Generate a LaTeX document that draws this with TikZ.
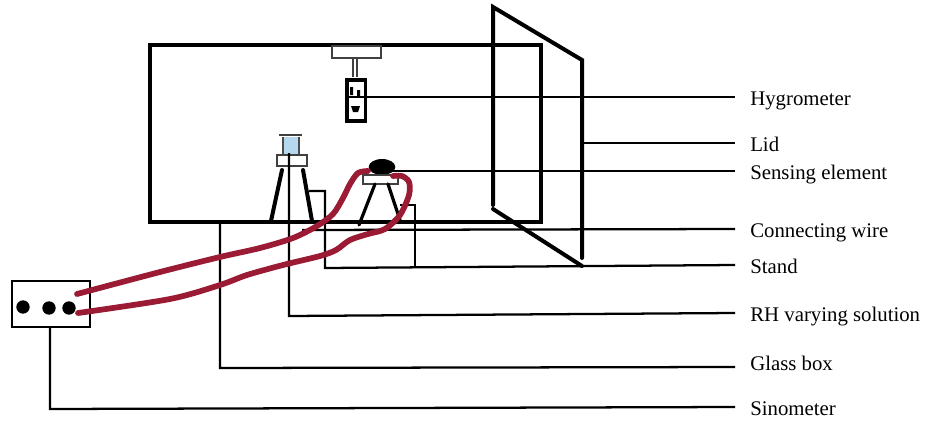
\documentclass[tikz,border=0pt]{standalone}
\usepackage{fontspec}
\usetikzlibrary{shapes.geometric}
\setmainfont{Liberation Serif}
\definecolor{wirecol}{HTML}{9B1B35}
\definecolor{solcol}{HTML}{B5D8EE}
\tikzset{
  x=0.75pt,y=-0.75pt,
  heavy/.style={draw=black,line width=3pt,line cap=round},
  medium/.style={draw=black,line width=1.9pt},
  leader/.style={draw=black,line width=1.7pt},
  thin part/.style={draw=black!75,line width=1pt},
  wire/.style={draw=wirecol,line width=4.3pt,line cap=round,line join=round},
  lab/.style={anchor=west,inner ysep=0pt,inner xsep=11.25pt,font=\fontsize{15.6}{17}\selectfont,text height=13pt,text depth=1pt},
  dot/.style={circle,fill=black,inner sep=0pt,minimum size=10pt},
}
\begin{document}
\begin{tikzpicture}
\useasboundingbox (0,0) rectangle (928,425);
% labels
\node[lab] (hyg) at (735,97) {Hygrometer};
\node[lab] (lid) at (735,143) {Lid};
\node[lab] (sen) at (735,171) {Sensing element};
\node[lab] (con) at (735,229) {Connecting wire};
\node[lab] (sta) at (735,265) {Stand};
\node[lab] (rhs) at (735,313) {RH varying solution};
\node[lab] (gla) at (735,362) {Glass box};
\node[lab] (sin) at (735,407) {Sinometer};
\coordinate (glaend) at (735,367);
% glass box
\draw[heavy] (150,45) rectangle (541,222);
% lid
\coordinate (la) at (493,7);
\coordinate (lb) at (582,60);
\coordinate (lc) at (582,258);
\coordinate (ld) at (493,205);
\coordinate (le) at (493,209);
\coordinate (lf) at (582,266);
\draw[heavy] (ld) -- (la) -- (lb) -- (lc);
\draw[heavy] (le) -- (lf);
% hygrometer
\draw[thin part] (332,46) rectangle (381,58);
\draw[thin part] (353,58) -- (353,77) (357,58) -- (357,77);
\node[draw=black,line width=2.8pt,inner sep=0pt,anchor=north west] (hbox) at (345,78) {\rule{0pt}{31pt}\rule{14pt}{0pt}};
\draw[medium] (345,97) -- (367,97) -- (hyg.west);
\fill (350,87) rectangle (353,95) (357,90) rectangle (360,96);
\fill (351,106) -- (360,106) -- (358,112) -- (353,112) -- cycle;
% beaker and stand
\fill[solcol] (283,137) rectangle (299,155);
\draw[black!70,line width=0.8pt] (283,137) -- (283,155) (299,137) -- (299,155);
\draw[black!75,line width=1.2pt] (279,135) -- (302,135);
\draw[thin part] (277,155) rectangle (307,166);
\draw[heavy] (282,170) -- (271,221);
\draw[heavy] (303,170) -- (312,221);
% sensor and stand
\node[ellipse,fill=black,inner sep=0pt,minimum width=20pt,minimum height=12pt] (blob) at (382,167) {};
\draw[thin part] (363,175) rectangle (398,184);
\draw[line width=2.4pt,line cap=round] (375,184) -- (359,225);
\draw[line width=2.4pt,line cap=round] (388,184) -- (400,220);
% leaders
\coordinate (lidp) at (582,143);
\coordinate (senp) at (392,171);
\coordinate (conp) at (302,230);
\draw[leader] (lidp) -- (lid.west);
\draw[leader] (senp) -- (sen.west);
\draw[leader] (conp) -- (con.west);
\coordinate (st1) at (309,191);
\coordinate (st2) at (325,191);
\coordinate (st3) at (325,268);
\coordinate (st4) at (400,205);
\coordinate (st5) at (415,205);
\coordinate (st6) at (415,268);
\draw[leader] (st1) -- (st2) -- (st3) -- (sta.west);
\draw[leader] (st4) -- (st5) -- (st6);
\coordinate (rh1) at (289,153);
\coordinate (rh2) at (289,316);
\draw[leader] (rh1) -- (rh2) -- (rhs.west);
\coordinate (gl1) at (220,222);
\coordinate (gl2) at (220,368);
\draw[leader] (gl1) -- (gl2) -- (glaend);
% sinometer
\draw[line width=2.2pt] (12,281) rectangle (90,327);
\node[dot] (d1) at (23,307) {};
\node[dot] (d2) at (49,308) {};
\node[dot] (d3) at (69,308) {};
\coordinate (si1) at (50,327);
\coordinate (si2) at (50,409);
\draw[leader] (si1) -- (si2) -- (sin.west);
% wires
\draw[wire] plot[smooth,tension=0.5] coordinates {(77,294) (160,272) (220,257) (260,248) (293,238) (317,226) (333,214) (343,198) (350,184) (358,173) (368,171)};
\draw[wire] plot[smooth,tension=0.5] coordinates {(78,313) (170,299) (220,285) (247,275) (283,265) (320,256) (336,250) (350,240) (368,234) (385,229) (400,215) (409,195) (409,182) (402,176) (393,176)};
\end{tikzpicture}
\end{document}
